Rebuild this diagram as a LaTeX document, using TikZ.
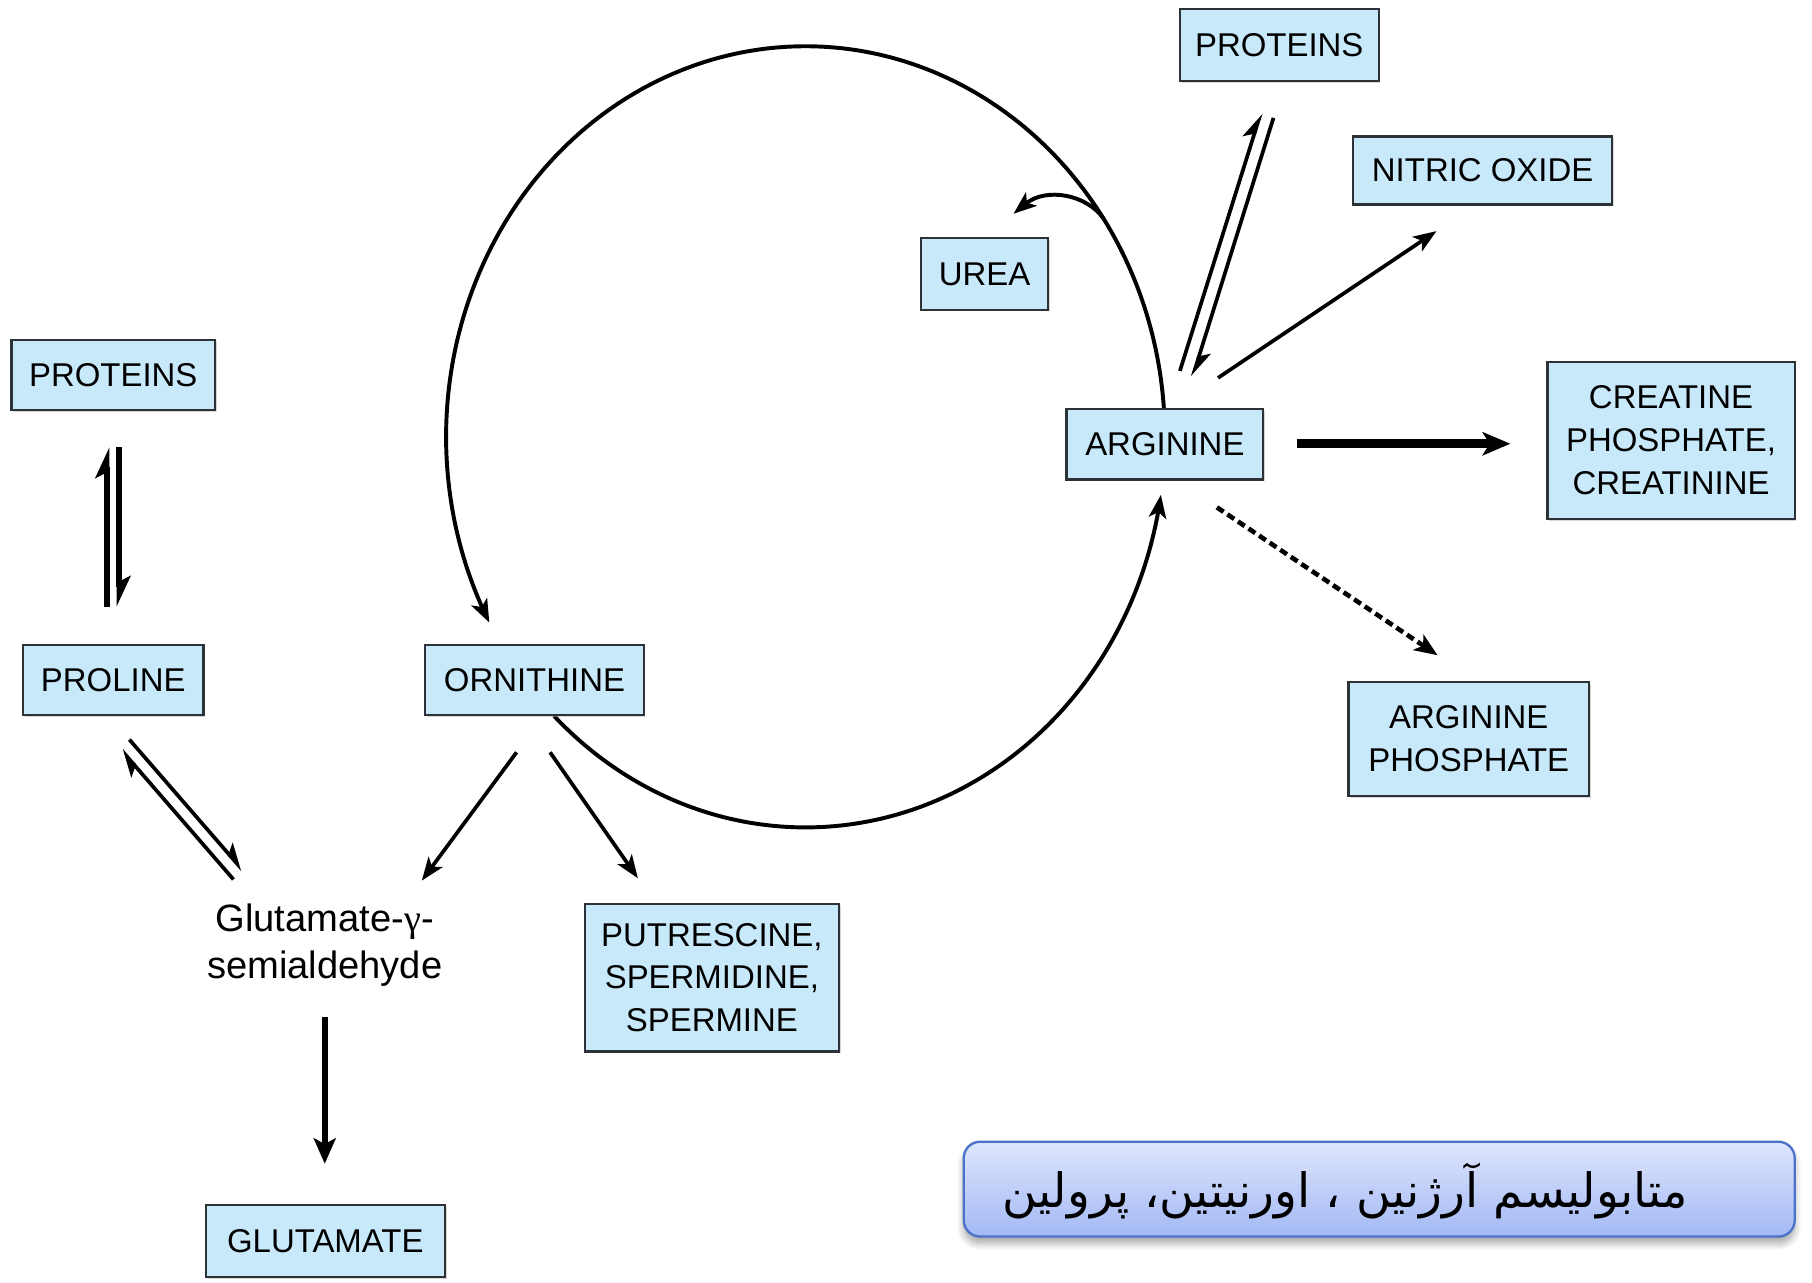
\documentclass[tikz,border=0pt]{standalone}
\usepackage{fontspec}
\setmainfont{Liberation Sans}
\newfontfamily\greekfont{Liberation Serif}
\newfontfamily\arabicfont[Script=Arabic]{DejaVu Sans}
\TeXXeTstate=1
\usetikzlibrary{arrows.meta,shadows,shadows.blur}

\definecolor{boxfill}{RGB}{200,233,250}
\definecolor{boxline}{RGB}{45,50,55}
\definecolor{bantop}{RGB}{222,229,252}
\definecolor{banbot}{RGB}{163,185,245}
\definecolor{banline}{RGB}{74,114,200}

\tikzset{
  mol/.style={draw=boxline, line width=2pt, fill=boxfill, inner sep=0pt,
    align=center, font=\fontsize{28.5}{37}\selectfont,
    drop shadow={shadow xshift=1.5pt, shadow yshift=-1.5pt, fill=black!30}},
  arr/.style={line width=3.2pt, -{Stealth[length=20pt,width=15pt,inset=5pt]}},
  harp/.style={line width=3.2pt, -{Stealth[harpoon,length=20pt,width=18pt,inset=5pt]}},
  heavyharp/.style={line width=5.5pt, -{Stealth[harpoon,length=22pt,width=20pt,inset=5pt]}},
  heavy/.style={line width=5.5pt, -{Stealth[length=22pt,width=19pt,inset=5pt]}},
  broad/.style={line width=8pt, -{Stealth[length=24pt,width=20pt,inset=6pt]}},
  dotted arr/.style={line width=4pt, dash pattern=on 7pt off 4pt,
    -{Stealth[length=20pt,width=16pt,inset=5pt]}},
  cyc/.style={line width=3.4pt},
}

\begin{document}
\begin{tikzpicture}[x=1pt,y=-1pt]
\path[use as bounding box] (0,0) rectangle (1568,1110);

% the cycle: ornithine -> arginine (lower arc), arginine -> ornithine (upper arc)
\draw[cyc, -{Stealth[length=20pt,width=15pt,inset=5pt]}]
  plot[domain=0:1, samples=150]
  ({697+311*cos(134.4-126.1*\x)},{378+338*sin(134.4-126.1*\x)});
\draw[cyc, -{Stealth[length=20pt,width=15pt,inset=5pt]}]
  plot[domain=0:1, samples=200]
  ({697+311*cos(-4.2-204.4*\x)},{378+338*sin(-4.2-204.4*\x)});
% urea leaves the cycle
\coordinate (ureastart) at ({697+311*cos(-34)},{378+338*sin(-34)});
\coordinate (ureatip) at (877,185);
\draw[cyc, -{Stealth[length=20pt,width=15pt,inset=5pt]}]
  (ureastart) .. controls (940,168) and (905,162) .. (ureatip);

% compounds
\node[mol, minimum width=176pt, minimum height=61pt] (protL) at (98,324.5) {PROTEINS};
\node[mol, minimum width=156pt, minimum height=61pt] (proline) at (98,588.5) {PROLINE};
\node[mol, minimum width=189pt, minimum height=61pt] (orn) at (462.5,588.5) {ORNITHINE};
\node[font=\fontsize{33}{41}\selectfont, align=center] (semi) at (281,818)
  {Glutamate-{\greekfont γ}-\\semialdehyde};
\node[mol, minimum width=207pt, minimum height=62pt] (glu) at (281.5,1074) {GLUTAMATE};
\node[mol, minimum width=220pt, minimum height=128pt] (poly) at (616,846)
  {PUTRESCINE,\\SPERMIDINE,\\SPERMINE};
\node[mol, minimum width=110pt, minimum height=62pt] (urea) at (852,237) {UREA};
\node[mol, minimum width=170pt, minimum height=61pt] (arg) at (1008,384.5) {ARGININE};
\node[mol, minimum width=172pt, minimum height=62pt] (protT) at (1107,39) {PROTEINS};
\node[mol, minimum width=224pt, minimum height=59pt] (no) at (1283,147.5) {NITRIC OXIDE};
\node[mol, minimum width=214pt, minimum height=136pt] (creat) at (1446,381)
  {CREATINE\\PHOSPHATE,\\CREATININE};
\node[mol, minimum width=208pt, minimum height=99pt] (argp) at (1271,639.5)
  {ARGININE\\PHOSPHATE};

% title banner
\node[draw=banline, line width=2pt, rounded corners=14pt,
  top color=bantop, bottom color=banbot,
  minimum width=719pt, minimum height=82pt,
  blur shadow={shadow xshift=0pt, shadow yshift=-6pt, shadow blur radius=6pt,
    shadow blur steps=10, shadow opacity=35}] (banner) at (1193.5,1029) {};
\node[font=\arabicfont\fontsize{41}{49}\selectfont] (title) at (1164,1031)
  {\beginR متابولیسم آرژنین ، اورنیتین، پرولین\endR};

% arrow end points
\coordinate (pa1) at (92.5,525);  \coordinate (pa2) at (92.5,387);
\coordinate (pb1) at (103,387);   \coordinate (pb2) at (103,525);
\coordinate (sa1) at (202,761);   \coordinate (sa2) at (105,649);
\coordinate (sb1) at (112,640);   \coordinate (sb2) at (210,753);
\coordinate (sg1) at (281,880);   \coordinate (sg2) at (281,1007);
\coordinate (os1) at (447,651);   \coordinate (os2) at (365,762);
\coordinate (op1) at (476,651);   \coordinate (op2) at (552,760);
\coordinate (ta1) at (1021,321);  \coordinate (ta2) at (1091,98);
\coordinate (tb1) at (1102,102);  \coordinate (tb2) at (1032,326);
\coordinate (an1) at (1054,327);  \coordinate (an2) at (1243,200);
\coordinate (ac1) at (1122,384);  \coordinate (ac2) at (1307,384);
\coordinate (ap1) at (1053,439);  \coordinate (ap2) at (1244,567);

% connectors
\draw[heavyharp] (pa1) -- (pa2);
\draw[heavyharp] (pb1) -- (pb2);
\draw[harp] (sa1) -- (sa2);
\draw[harp] (sb1) -- (sb2);
\draw[heavy] (sg1) -- (sg2);
\draw[arr] (os1) -- (os2);
\draw[arr] (op1) -- (op2);
\draw[harp] (ta1) -- (ta2);
\draw[harp] (tb1) -- (tb2);
\draw[arr] (an1) -- (an2);
\draw[broad] (ac1) -- (ac2);
\draw[dotted arr] (ap1) -- (ap2);
\end{tikzpicture}
\end{document}
